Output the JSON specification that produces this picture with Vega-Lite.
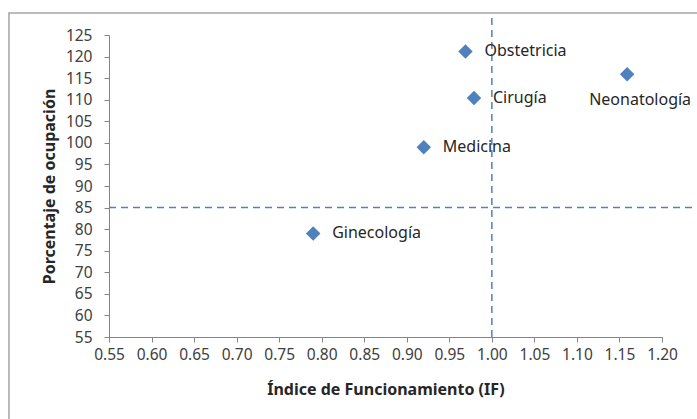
{
  "$schema": "https://vega.github.io/schema/vega-lite/v6.json",
  "width": 553,
  "height": 302,
  "autosize": {"type": "none"},
  "padding": {"left": 109, "top": 35, "right": 35, "bottom": 82},
  "background": "white",
  "config": {
    "view": {"stroke": null},
    "font": "Noto Sans",
    "axis": {"grid": false, "domainColor": "#868686", "tickColor": "#868686", "labelColor": "#404040", "labelFontSize": 15.5, "titleFontSize": 16, "titleFontWeight": "bold", "titleColor": "#262626", "labelFont": "Noto Sans", "titleFont": "Noto Sans", "tickSize": 5, "labelOverlap": false, "labelFlush": false, "labelBound": false},
    "axisY": {"labelOverlap": false, "labelFontSize": 15.5, "titleFontSize": 16},
    "axisX": {"labelOverlap": false, "labelFontSize": 15.5, "titleFontSize": 16},
    "axisQuantitative": {"labelOverlap": false}
  },
  "datasets": {
    "pts": [
      {"servicio": "Obstetricia", "IF": 0.969, "ocupacion": 121.2},
      {"servicio": "Cirugía", "IF": 0.979, "ocupacion": 110.4},
      {"servicio": "Neonatología", "IF": 1.159, "ocupacion": 115.9},
      {"servicio": "Medicina", "IF": 0.92, "ocupacion": 99.0},
      {"servicio": "Ginecología", "IF": 0.79, "ocupacion": 79.0}
    ],
    "frame": [{"x": 0.4324, "x2": 1.32, "y": 130.1, "y2": 20}],
    "hline": [{"x": 0.55, "x2": 1.26, "y": 85}],
    "vline": [{"x": 1.0, "y": 55, "y2": 130.1}]
  },
  "layer": [
    {
      "data": {"name": "frame"},
      "mark": {"type": "rect", "fill": null, "stroke": "#a6a6a6", "strokeWidth": 1.5, "clip": false},
      "encoding": {
        "x": {"field": "x", "type": "quantitative", "scale": {"domain": [0.55, 1.2], "nice": false, "zero": false},
              "title": "Índice de Funcionamiento (IF)",
              "axis": {"values": [0.55, 0.6, 0.65, 0.7, 0.75, 0.8, 0.85, 0.9, 0.95, 1.0, 1.05, 1.1, 1.15, 1.2], "format": ".2f", "labelPadding": 5, "titlePadding": 19, "labelOverlap": false, "labelFontSize": 15.5, "titleFontSize": 16}},
        "x2": {"field": "x2"},
        "y": {"field": "y", "type": "quantitative", "scale": {"domain": [55, 125], "nice": false, "zero": false},
              "title": "Porcentaje de ocupación",
              "axis": {"values": [55, 60, 65, 70, 75, 80, 85, 90, 95, 100, 105, 110, 115, 120, 125], "tickCount": 15, "labelPadding": 12, "titlePadding": 8, "labelOverlap": false, "labelFontSize": 15.5, "titleFontSize": 16}},
        "y2": {"field": "y2"}
      }
    },
    {
      "data": {"name": "hline"},
      "mark": {"type": "rule", "color": "#4f81bd", "strokeWidth": 1.5, "strokeDash": [7, 5], "clip": false},
      "encoding": {
        "x": {"field": "x", "type": "quantitative"},
        "x2": {"field": "x2"},
        "y": {"field": "y", "type": "quantitative"}
      }
    },
    {
      "data": {"name": "vline"},
      "mark": {"type": "rule", "color": "#4f81bd", "strokeWidth": 1.5, "strokeDash": [7, 5], "clip": false},
      "encoding": {
        "x": {"field": "x", "type": "quantitative"},
        "y": {"field": "y", "type": "quantitative"},
        "y2": {"field": "y2"}
      }
    },
    {
      "data": {"name": "pts"},
      "mark": {"type": "point", "shape": "diamond", "filled": true, "color": "#4f81bd", "size": 210, "opacity": 1},
      "encoding": {
        "x": {"field": "IF", "type": "quantitative"},
        "y": {"field": "ocupacion", "type": "quantitative"}
      }
    },
    {
      "data": {"name": "pts"},
      "transform": [{"filter": "datum.servicio !== 'Neonatología'"}],
      "mark": {"type": "text", "align": "left", "baseline": "middle", "dx": 19, "fontSize": 16, "color": "#262626", "font": "Noto Sans"},
      "encoding": {
        "x": {"field": "IF", "type": "quantitative"},
        "y": {"field": "ocupacion", "type": "quantitative"},
        "text": {"field": "servicio"}
      }
    },
    {
      "data": {"name": "pts"},
      "transform": [{"filter": "datum.servicio === 'Neonatología'"}],
      "mark": {"type": "text", "align": "center", "baseline": "middle", "dx": 13, "dy": 26, "fontSize": 16, "color": "#262626", "font": "Noto Sans"},
      "encoding": {
        "x": {"field": "IF", "type": "quantitative"},
        "y": {"field": "ocupacion", "type": "quantitative"},
        "text": {"field": "servicio"}
      }
    }
  ]
}
